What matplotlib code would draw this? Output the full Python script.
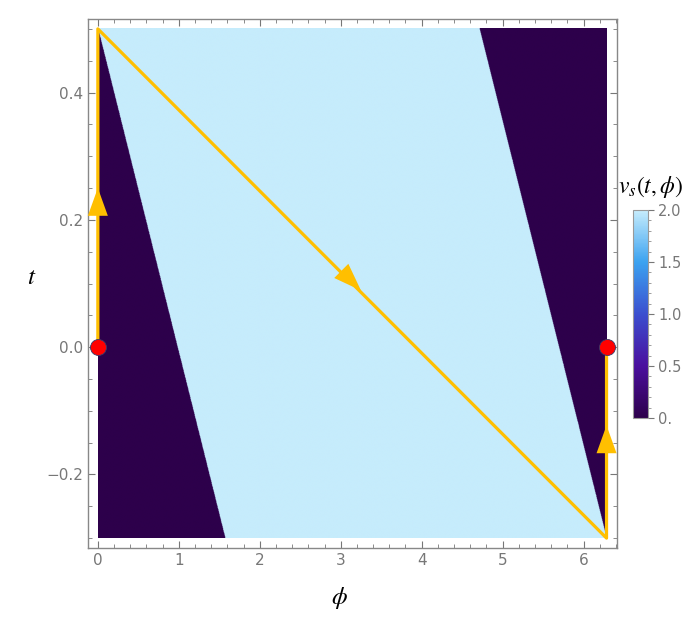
import numpy as np
import matplotlib
matplotlib.use("Agg")
import matplotlib.pyplot as plt
from matplotlib.colors import LinearSegmentedColormap
from matplotlib.patches import ArrowStyle
from matplotlib.ticker import MultipleLocator, FixedLocator, FixedFormatter

plt.rcParams['mathtext.fontset'] = 'stix'

# Domain of the density plot
phi_range = [0.0, 2 * np.pi]
t_range = [-0.3, 0.5]

# Boundaries of the v_s = 0 region: phi of the edge at t = 0.5 and t = -0.3
left_edge_phi = [0.0, np.pi / 2]
right_edge_phi = [3 * np.pi / 2, 2 * np.pi]
vs_inside = 2.0
vs_outside = 0.0

# Orange path (phi, t) and arrow tips
path_phi = [0.0, 0.0, 2 * np.pi, 2 * np.pi]
path_t = [0.0, 0.5, -0.3, 0.0]
arrow_tips = [(0.0, 0.25), (3.25, 0.089), (2 * np.pi, -0.123)]
arrow_tails = [(0.0, 0.20), (2.95, 0.127), (2 * np.pi, -0.17)]

# Red points
point_phi = [0.0, 2 * np.pi]
point_t = [0.0, 0.0]

# Colour bar ticks
cbar_ticks = [0.0, 0.5, 1.0, 1.5, 2.0]
cbar_labels = ['0.', '0.5', '1.0', '1.5', '2.0']

cmap = LinearSegmentedColormap.from_list(
    'vs', [(0.0, '#2d004b'), (0.25, '#4a0f9e'), (0.5, '#3b4fcf'),
           (0.75, '#3ba2f0'), (1.0, '#c6ecfc')])

# Evaluate v_s on a grid
phi = np.linspace(phi_range[0], phi_range[1], 1200)
t = np.linspace(t_range[0], t_range[1], 1200)
P, T = np.meshgrid(phi, t)
frac = (t_range[1] - T) / (t_range[1] - t_range[0])
left_b = left_edge_phi[0] + frac * (left_edge_phi[1] - left_edge_phi[0])
right_b = right_edge_phi[0] + frac * (right_edge_phi[1] - right_edge_phi[0])
V = np.where((P > left_b) & (P < right_b), vs_inside, vs_outside)

fig = plt.figure(figsize=(6.97, 6.30), dpi=100)
ax = fig.add_axes([0.1258, 0.1297, 0.759, 0.8406])
im = ax.imshow(V, origin='lower', aspect='auto', cmap=cmap, vmin=0, vmax=2,
               extent=[phi_range[0], phi_range[1], t_range[0], t_range[1]],
               interpolation='antialiased', zorder=1)

orange = '#ffbf00'
ax.plot(path_phi, path_t, color=orange, lw=2.3, zorder=3, solid_capstyle='butt')
head = ArrowStyle('-|>', head_length=1.0, head_width=0.36)
for tip, tail in zip(arrow_tips, arrow_tails):
    ax.annotate('', xy=tip, xytext=tail,
                arrowprops=dict(arrowstyle=head, mutation_scale=20, color=orange,
                                lw=0, shrinkA=0, shrinkB=0),
                zorder=4)
ax.plot(point_phi, point_t, 'o', color='#ff0000', markersize=11.5,
        markeredgecolor='#3a3a6a', markeredgewidth=0.6, zorder=5, clip_on=False)

pad_x = 0.02 * (phi_range[1] - phi_range[0])
pad_y = 0.02 * (t_range[1] - t_range[0])
ax.set_xlim(phi_range[0] - pad_x, phi_range[1] + pad_x)
ax.set_ylim(t_range[0] - pad_y, t_range[1] + pad_y)

gray = '#777777'
ax.xaxis.set_major_locator(MultipleLocator(1))
ax.xaxis.set_minor_locator(MultipleLocator(0.2))
ax.yaxis.set_major_locator(MultipleLocator(0.2))
ax.yaxis.set_minor_locator(MultipleLocator(0.05))
ax.tick_params(which='both', direction='in', top=True, right=True,
               color=gray, labelcolor=gray, labelsize=11)
ax.tick_params(which='major', length=5, width=0.8)
ax.tick_params(which='minor', length=3, width=0.6)
ax.yaxis.set_major_formatter(plt.FuncFormatter(
    lambda v, p: ('\u2212' if v < -1e-9 else '') + f'{abs(v):.1f}'))
for s in ax.spines.values():
    s.set_color('#888888')
    s.set_linewidth(1.0)

ax.set_xlabel(r'$\phi$', fontsize=18)
ax.xaxis.set_label_coords(0.475, -0.094)
ax.xaxis.label.set_va('center')
ax.set_ylabel(r'$t$', fontsize=18, rotation=0, va='center', ha='center')
ax.yaxis.set_label_coords(-0.106, 0.513)

cax = fig.add_axes([0.908, 0.3365, 0.0215, 0.330])
cb = fig.colorbar(im, cax=cax)
cb.outline.set_edgecolor('#999999')
cb.outline.set_linewidth(0.8)
cax.yaxis.set_major_locator(FixedLocator(cbar_ticks))
cax.yaxis.set_major_formatter(FixedFormatter(cbar_labels))
cax.yaxis.set_minor_locator(MultipleLocator(0.1))
cax.tick_params(which='both', direction='out', color=gray, labelcolor=gray,
                labelsize=10.5)
cax.tick_params(which='major', length=4, width=0.8)
cax.tick_params(which='minor', length=2, width=0.5)
fig.text(0.933, 0.703, r'$v_s(t,\phi)$', fontsize=17, ha='center', va='center')

fig.savefig('out.png', dpi=100)
